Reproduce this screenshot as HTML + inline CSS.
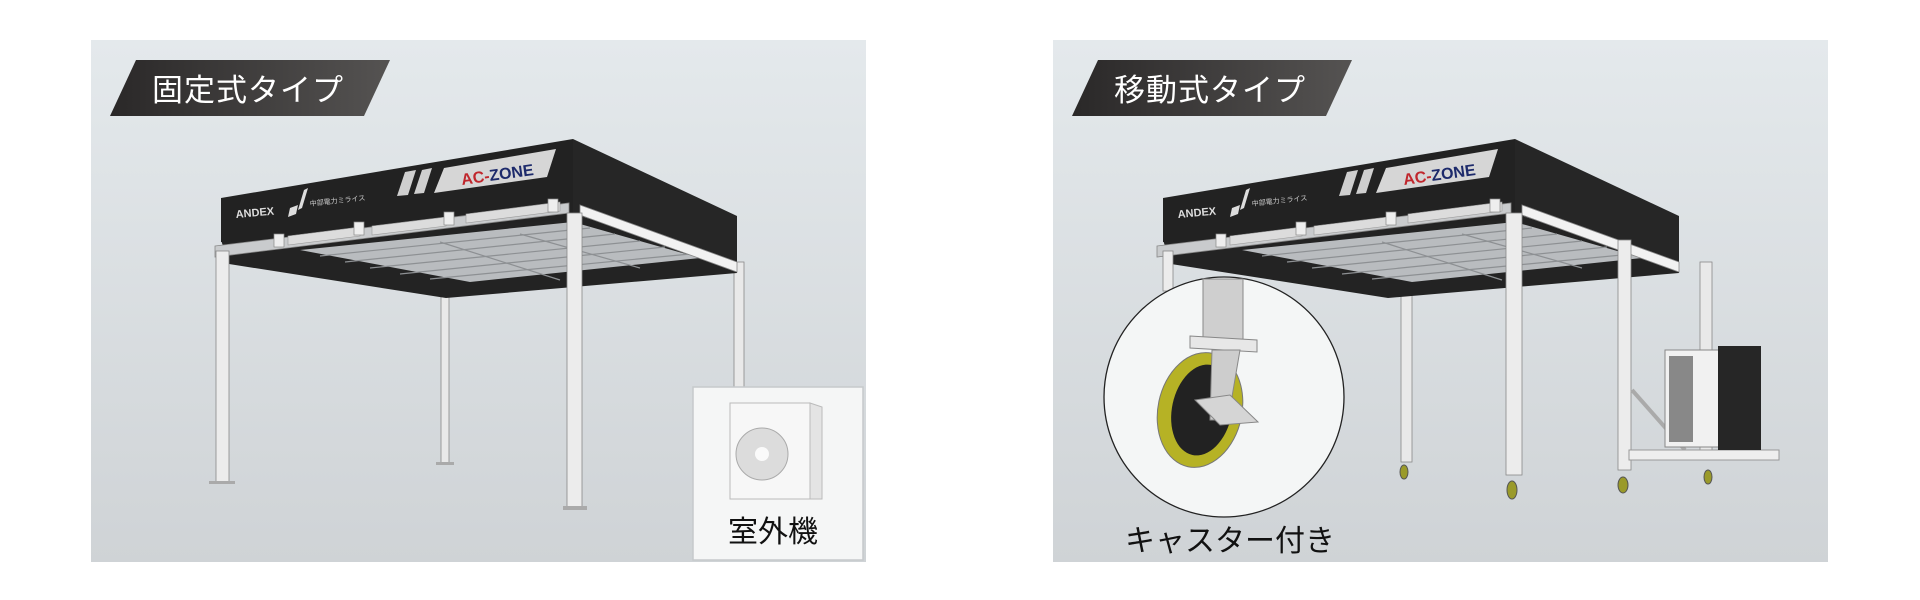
<!DOCTYPE html>
<html><head><meta charset="utf-8"><style>
html,body{margin:0;padding:0;background:#fff;width:1920px;height:600px;overflow:hidden}
svg{display:block}
text{font-family:"Liberation Sans","Noto Sans CJK JP",sans-serif}
</style></head><body>
<svg width="1920" height="600" viewBox="0 0 1920 600" xmlns="http://www.w3.org/2000/svg">
<defs>
<linearGradient id="bg" x1="0" y1="0" x2="0" y2="1">
<stop offset="0" stop-color="#e4e9ec"/><stop offset="1" stop-color="#cfd3d6"/></linearGradient>
<linearGradient id="lab" x1="0" y1="0" x2="1" y2="0">
<stop offset="0" stop-color="#2a2828"/><stop offset="1" stop-color="#555352"/></linearGradient>
<g id="canopy">
<!-- underside -->
<polygon points="221,240 573,214 737,262 737,273 446,298 229,264" fill="#232323"/>
<!-- ceiling grid -->
<polygon points="300,250 573,222 700,258 470,282" fill="#b9bcbf"/>
<g stroke="#8d9093" stroke-width="1.2" fill="none">
<line x1="320" y1="256" x2="590" y2="228"/><line x1="345" y1="262" x2="615" y2="234"/>
<line x1="370" y1="268" x2="640" y2="241"/><line x1="400" y1="274" x2="665" y2="247"/>
<line x1="430" y1="279" x2="690" y2="254"/>
<line x1="440" y1="242" x2="560" y2="280"/><line x1="520" y1="234" x2="640" y2="268"/>
</g>
<!-- front band -->
<polygon points="221,198 573,139 573,219 221,242" fill="#222"/>
<!-- right band -->
<polygon points="573,139 737,216 737,262 573,214" fill="#262626"/>
<!-- AC-ZONE panel -->
<polygon points="444,168 556,149 547,177 434,193" fill="#d6d6d6"/>
<polygon points="405,172 416,170 408,195 397,196" fill="#cfcfcf"/>
<polygon points="422,170 432,168 424,193 414,194" fill="#cfcfcf"/>
<text x="462" y="185" font-size="16" font-weight="bold" fill="#c0272d" transform="rotate(-8 462 185)">AC-<tspan fill="#1d2a6b">ZONE</tspan></text>
<text x="236" y="218" font-size="11" font-weight="bold" fill="#ddd" transform="rotate(-5 236 218)">ANDEX</text>
<polygon points="304,190 308,188 302,208 298,210" fill="#ddd"/>
<polygon points="290,208 298,205 296,214 288,217" fill="#ddd"/>
<text x="310" y="206" font-size="7" fill="#ccc" transform="rotate(-6 310 206)">中部電力ミライス</text>
<!-- rails front -->
<polygon points="215,246 569,203 569,213 215,257" fill="#c9cbcd" stroke="#888" stroke-width="0.8"/>
<polygon points="288,236 360,227 360,236 288,245" fill="#dcdcdc" stroke="#999" stroke-width="0.6"/>
<polygon points="372,226 446,217 446,226 372,235" fill="#dcdcdc" stroke="#999" stroke-width="0.6"/>
<polygon points="466,214 560,202 560,211 466,223" fill="#dcdcdc" stroke="#999" stroke-width="0.6"/>
<g fill="#eee" stroke="#888" stroke-width="0.7">
<rect x="274" y="234" width="10" height="13"/><rect x="354" y="222" width="10" height="13"/>
<rect x="444" y="212" width="10" height="13"/><rect x="548" y="199" width="10" height="13"/></g>
<!-- rails right -->
<polygon points="580,205 737,262 737,272 580,215" fill="#f2f2f2" stroke="#888" stroke-width="0.8"/>
</g>
</defs>
<!-- panels -->
<rect x="91" y="40" width="775" height="522" fill="url(#bg)"/>
<rect x="1053" y="40" width="775" height="522" fill="url(#bg)"/>
<!-- labels -->
<polygon points="136,60 390,60 364,116 110,116" fill="url(#lab)"/>
<text x="152" y="101" font-size="31" fill="#fff" letter-spacing="1">固定式タイプ</text>
<polygon points="1098,60 1352,60 1326,116 1072,116" fill="url(#lab)"/>
<text x="1114" y="101" font-size="31" fill="#fff" letter-spacing="1">移動式タイプ</text>

<!-- LEFT canopy legs (behind) -->
<rect x="441" y="288" width="8" height="176" fill="#e9e9e9" stroke="#888" stroke-width="0.8"/>
<rect x="436" y="462" width="18" height="3" fill="#aaa"/>
<rect x="734" y="262" width="10" height="126" fill="#e9e9e9" stroke="#888" stroke-width="0.8"/>
<use href="#canopy"/>
<rect x="216" y="251" width="13" height="232" fill="#ececec" stroke="#888" stroke-width="0.8"/>
<rect x="209" y="481" width="26" height="3" fill="#aaa"/>
<rect x="567" y="213" width="15" height="296" fill="#ececec" stroke="#888" stroke-width="0.8"/>
<rect x="563" y="506" width="24" height="4" fill="#aaa"/>
<!-- outdoor unit box -->
<rect x="693" y="387" width="170" height="173" fill="#f5f6f6" stroke="#c6c9cc" stroke-width="1.5"/>
<rect x="730" y="403" width="80" height="96" fill="#f7f7f7" stroke="#bbb" stroke-width="1"/>
<polygon points="810,403 822,407 822,499 810,499" fill="#e4e4e4" stroke="#bbb"/>
<circle cx="762" cy="454" r="26" fill="#dcdcdc" stroke="#aaa"/>
<circle cx="762" cy="454" r="7" fill="#fafafa"/>
<text x="773" y="542" font-size="30" fill="#111" text-anchor="middle">室外機</text>

<!-- RIGHT canopy -->
<rect x="1401" y="290" width="11" height="172" fill="#e9e9e9" stroke="#888" stroke-width="0.8"/>
<rect x="1700" y="262" width="12" height="198" fill="#e9e9e9" stroke="#888" stroke-width="0.8"/>
<g transform="translate(942,0)"><use href="#canopy"/></g>
<rect x="1163" y="251" width="10" height="40" fill="#ececec" stroke="#888" stroke-width="0.8"/>
<rect x="1506" y="213" width="16" height="262" fill="#ececec" stroke="#888" stroke-width="0.8"/>
<rect x="1618" y="240" width="13" height="230" fill="#ececec" stroke="#888" stroke-width="0.8"/>
<!-- casters -->
<g fill="#9a9a2a" stroke="#555" stroke-width="1">
<ellipse cx="1404" cy="472" rx="4" ry="7"/><ellipse cx="1512" cy="490" rx="5" ry="9"/>
<ellipse cx="1623" cy="485" rx="5" ry="8"/><ellipse cx="1708" cy="477" rx="4" ry="7"/></g>
<!-- AC unit on platform -->
<line x1="1632" y1="390" x2="1685" y2="450" stroke="#aaa" stroke-width="4"/>
<rect x="1629" y="450" width="150" height="10" fill="#eee" stroke="#999"/>
<rect x="1665" y="350" width="67" height="97" fill="#f1f1f1" stroke="#888"/>
<rect x="1669" y="356" width="24" height="86" fill="#888"/>
<rect x="1718" y="346" width="43" height="104" fill="#262626"/>
<!-- caster circle -->
<circle cx="1224" cy="397" r="120" fill="#f4f6f6" stroke="#222" stroke-width="1.3"/>
<rect x="1203" y="279" width="40" height="62" fill="#cfcfcf" stroke="#888"/>
<polygon points="1190,336 1257,340 1257,352 1190,348" fill="#e7e7e7" stroke="#888"/>
<ellipse cx="1200" cy="410" rx="42" ry="58" fill="#b6b225" stroke="#777" transform="rotate(12 1200 410)"/>
<ellipse cx="1202" cy="410" rx="30" ry="46" fill="#222" transform="rotate(12 1202 410)"/>
<polygon points="1212,350 1240,350 1228,420 1210,420" fill="#cdcdcd" stroke="#888"/>
<polygon points="1195,400 1230,395 1258,422 1220,425" fill="#d5d5d5" stroke="#888"/>
<text x="1125" y="551" font-size="30" fill="#111">キャスター付き</text>
</svg>
</body></html>
